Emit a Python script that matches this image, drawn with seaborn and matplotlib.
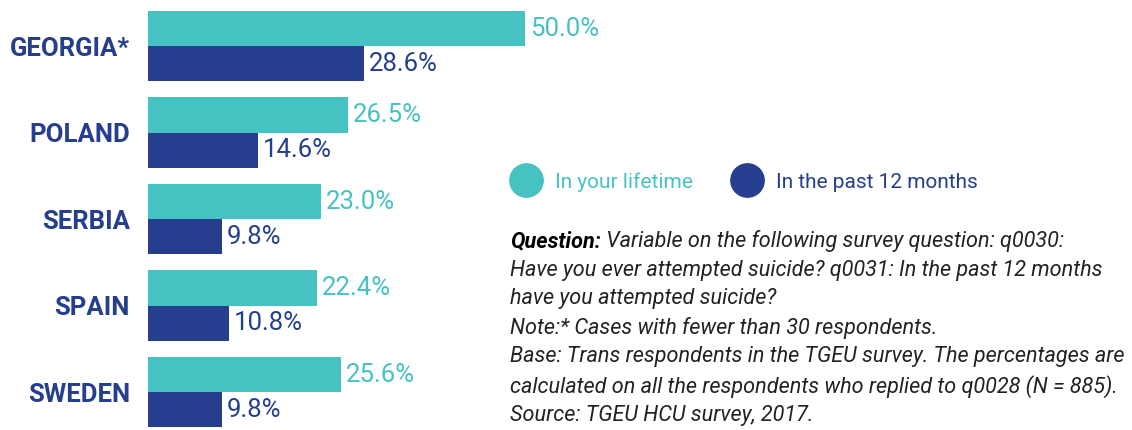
import matplotlib
matplotlib.use("Agg")
import matplotlib.pyplot as plt
from matplotlib.lines import Line2D
import seaborn as sns
import pandas as pd

countries = ["GEORGIA*", "POLAND", "SERBIA", "SPAIN", "SWEDEN"]
lifetime = [50.0, 26.5, 23.0, 22.4, 25.6]
past_12 = [28.6, 14.6, 9.8, 10.8, 9.8]
periods = ["In your lifetime", "In the past 12 months"]

TEAL = "#47C2C2"
NAVY = "#253F8E"

sns.set_style("white")
plt.rcParams["font.family"] = ["Roboto", "DejaVu Sans"]

df = pd.DataFrame({
    "country": countries * 2,
    "value": lifetime + past_12,
    "period": [periods[0]] * 5 + [periods[1]] * 5,
})

fig = plt.figure(figsize=(11.32, 4.3), dpi=100)
# axes spans bar area: x from 148px, 7.54 px per percent
ax = fig.add_axes([148 / 1132, 0, 754 / 1132, 1])
sns.barplot(data=df, y="country", x="value", hue="period", orient="h",
            palette=[TEAL, NAVY], width=0.81, dodge=True, ax=ax,
            legend=False, saturation=1, linewidth=0, edgecolor="none")
ax.set_xlim(0, 100)
ax.set_ylim(4.439, -0.532)
ax.set_xlabel("")
ax.set_ylabel("")
ax.set_xticks([])
sns.despine(ax=ax, left=True, bottom=True)
ax.tick_params(axis="y", length=0, pad=13)
for lab in ax.get_yticklabels():
    lab.set_fontweight("bold")
    lab.set_fontsize(18.5)
    lab.set_color(NAVY)

for cont, col in zip(ax.containers, [TEAL, NAVY]):
    ax.bar_label(cont, fmt="%.1f%%", padding=3.5, color=col, fontsize=18.5)

# legend with round markers
handles = [Line2D([], [], marker="o", linestyle="", markersize=24,
                  markerfacecolor=c, markeredgecolor=c) for c in [TEAL, NAVY]]
leg = fig.legend(handles, periods, loc="center left",
                 bbox_to_anchor=(513 / 1132, 1 - 182 / 430), ncol=2,
                 frameon=False, fontsize=15, handletextpad=0.8,
                 columnspacing=2.0, handlelength=1.2, borderpad=0,
                 borderaxespad=0)
for txt, c in zip(leg.get_texts(), [TEAL, NAVY]):
    txt.set_color(c)

# notes
x0 = 510 / 1132
fs = 15.6
t1 = fig.text(x0, 1 - 241 / 430, "Question:", fontsize=fs, fontweight="bold",
              style="italic", color="black", va="center")
ax.annotate(" Variable on the following survey question: q0030:",
            xy=(1, 0.5), xycoords=t1, va="center", ha="left",
            fontsize=fs, style="italic", color="#222222",
            annotation_clip=False)
note = ("Have you ever attempted suicide? q0031: In the past 12 months\n"
        "have you attempted suicide?\n"
        "Note:* Cases with fewer than 30 respondents.\n"
        "Base: Trans respondents in the TGEU survey. The percentages are\n"
        "calculated on all the respondents who replied to q0028 (N = 885).\n"
        "Source: TGEU HCU survey, 2017.")
fig.text(x0, 1 - 260 / 430, note, fontsize=fs, style="italic",
         color="#222222", va="top", linespacing=1.45)

fig.savefig("out.png", dpi=100)
